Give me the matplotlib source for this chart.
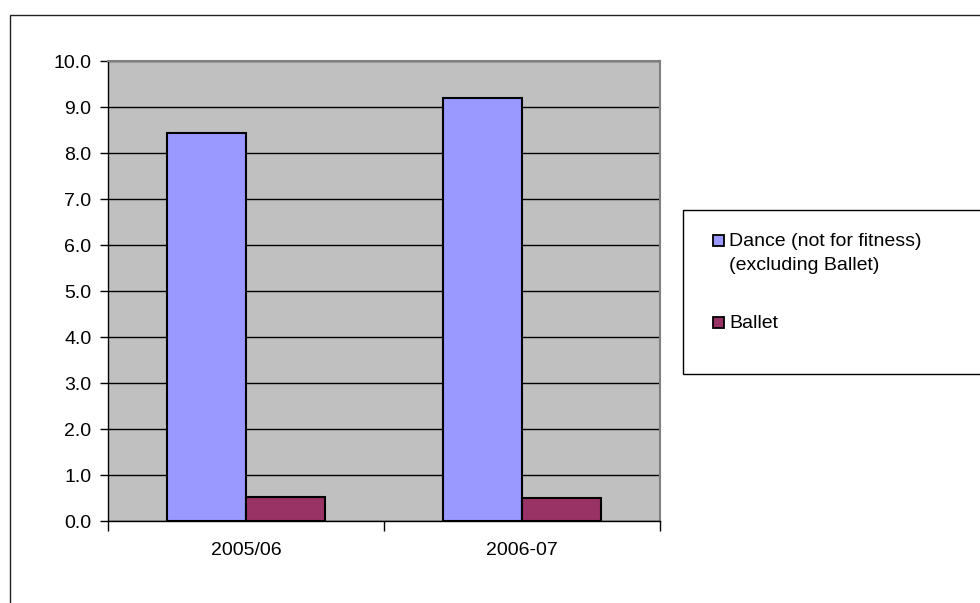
import numpy as np
import matplotlib.pyplot as plt
from matplotlib.patches import Rectangle

plt.rcParams['font.family'] = ['Liberation Sans', 'DejaVu Sans']

seasons = ["2005/06", "2006-07"]
dance = [8.43, 9.19]
ballet = [0.53, 0.50]
labels = ["Dance (not for fitness)\n(excluding Ballet)", "Ballet"]
colours = ["#9999FF", "#993366"]

W, H = 980, 603
fig = plt.figure(figsize=(W / 100, H / 100), dpi=100)
fig.patch.set_facecolor("white")

# outer chart border (runs off the right and bottom edges)
fig.patches.append(Rectangle((10 / W, -0.05), 1.2, 1 - 15 / H + 0.05,
                             transform=fig.transFigure, fill=False,
                             edgecolor="#222222", linewidth=1.0))

ax = fig.add_axes([108 / W, 82 / H, 552 / W, 460 / H])
ax.set_facecolor("#C0C0C0")

x = np.arange(len(seasons))
w = 1 / 3.5
ax.bar(x - w / 2, dance, w, color=colours[0], edgecolor="black", linewidth=1.5, zorder=3)
ax.bar(x + w / 2, ballet, w, color=colours[1], edgecolor="black", linewidth=1.5, zorder=3)

ax.set_xlim(-0.5, 1.5)
ax.set_ylim(0, 10)
yt = np.arange(0, 10.5, 1.0)
ax.set_yticks(yt)
ax.set_yticklabels([f"{v:.1f}" for v in yt])
ax.yaxis.grid(True, color="black", linewidth=1.0, zorder=0)
ax.set_axisbelow(True)

# category labels between boundary ticks
ax.set_xticks([-0.5, 0.5, 1.5])
ax.set_xticklabels([])
ax.set_xticks(x, minor=True)
ax.set_xticklabels(seasons, minor=True)
ax.tick_params(axis="x", which="minor", length=0, pad=15, labelsize=14)
ax.tick_params(axis="x", which="major", length=7, width=1, direction="out")
ax.tick_params(axis="y", length=6, width=1, direction="out", labelsize=14, pad=6)

for s in ["top", "right"]:
    ax.spines[s].set_color("#808080")
    ax.spines[s].set_linewidth(1.5)
for s in ["left", "bottom"]:
    ax.spines[s].set_color("black")
    ax.spines[s].set_linewidth(1.0)

# legend box, clipped by the figure edge
fig.patches.append(Rectangle((683 / W, 1 - 374 / H), 0.5, 164 / H,
                             transform=fig.transFigure, facecolor="white",
                             edgecolor="black", linewidth=1.0))
entry_base = [246, 328]
line_gap = 24
for base, lab, col in zip(entry_base, labels, colours):
    fig.patches.append(Rectangle((713 / W, 1 - base / H), 11 / W, 11 / H,
                                 transform=fig.transFigure, facecolor=col,
                                 edgecolor="black", linewidth=1.3))
    for i, part in enumerate(lab.split("\n")):
        fig.text(729 / W, 1 - (base + i * line_gap) / H, part, fontsize=14,
                 va="baseline", ha="left")

fig.savefig("out.png", dpi=100)
